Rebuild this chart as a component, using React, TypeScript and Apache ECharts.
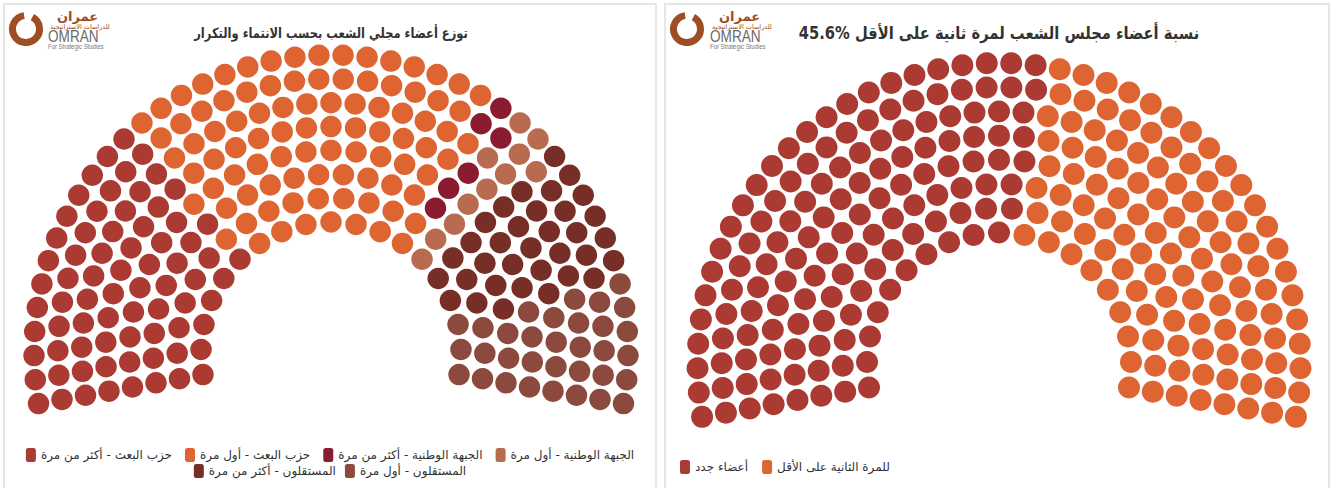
import React, { useEffect, useRef } from 'react';
import * as echarts from 'echarts';

// ---------- DATA ----------
const leftTitle = 'توزع أعضاء مجلي الشعب بحسب الانتماء والتكرار';
const leftCategories = [
  'حزب البعث - أكثر من مرة',
  'حزب البعث - أول مرة',
  'الجبهة الوطنية - أكثر من مرة',
  'الجبهة الوطنية - أول مرة',
  'المستقلون - أكثر من مرة',
  'المستقلون - أول مرة',
];
const leftSeats = [74, 92, 6, 11, 34, 33];

const rightTitle = '45.6% نسبة أعضاء مجلس الشعب لمرة ثانية على الأقل';
const rightCategories = ['أعضاء جدد', 'للمرة الثانية على الأقل'];
const rightSeats = [136, 114];

// ---------- STYLE / LAYOUT ----------
const leftColors = ['#ab3a33', '#de6431', '#8b1c30', '#b86b4f', '#772e26', '#8b4a3d'];
const rightColors = ['#ab3a33', '#de6431'];
const ROW_SEATS = [19, 22, 26, 29, 33, 37, 40, 44]; // parliament rows, inner -> outer
const START_DEG = -190;
const END_DEG = 10;
const FONT = '"DejaVu Sans", "Noto Sans", sans-serif';

function norm(deg: number) {
  return ((deg % 360) + 360) % 360;
}

// Parliament slot layout: seats on concentric arcs, ordered by angle
function buildSlots(innerR: number, outerR: number) {
  const n = ROW_SEATS.length;
  const slots: { r: number; key: number; row: number }[] = [];
  ROW_SEATS.forEach((count, k) => {
    const r = innerR + ((outerR - innerR) * k) / (n - 1);
    const cols = count - 1;
    for (let c = 0; c <= cols; c++) slots.push({ r, key: c / cols, row: k });
  });
  slots.sort((a, b) => a.key - b.key || a.row - b.row);
  return slots.map((s) => [s.r, norm(START_DEG + s.key * (END_DEG - START_DEG))]);
}

function assign(counts: number[], innerR: number, outerR: number) {
  const slots = buildSlots(innerR, outerR);
  const out: number[][][] = [];
  let idx = 0;
  counts.forEach((c) => {
    out.push(slots.slice(idx, idx + c));
    idx += c;
  });
  return out;
}

function logo(cx: number, cy: number, ringR: number, ringW: number, tx: number) {
  const brown = '#9e4d24';
  return [
    {
      type: 'arc',
      silent: true,
      shape: {
        cx,
        cy,
        r: ringR,
        startAngle: (-62 * Math.PI) / 180,
        endAngle: (262 * Math.PI) / 180,
        clockwise: true,
      },
      style: { stroke: brown, lineWidth: ringW, fill: null },
    },
    {
      type: 'text',
      x: tx + 9,
      y: 11.5,
      silent: true,
      style: { text: 'عمران', fontSize: 13, fontWeight: 'bold', fontFamily: FONT, fill: brown, align: 'left', verticalAlign: 'middle' },
    },
    {
      type: 'text',
      x: tx + 2,
      y: 21.5,
      silent: true,
      style: { text: 'للدراسات الاستراتيجية', fontSize: 6.5, fontFamily: FONT, fill: brown, align: 'left', verticalAlign: 'middle' },
    },
    {
      type: 'text',
      x: tx,
      y: 32,
      scaleX: 0.85,
      silent: true,
      style: { text: 'OMRAN', fontSize: 16, fontFamily: '"Liberation Sans", sans-serif', fill: '#6b6b6b', align: 'left', verticalAlign: 'middle' },
    },
    {
      type: 'text',
      x: tx,
      y: 41.5,
      scaleX: 0.85,
      silent: true,
      style: { text: 'For Strategic Studies', fontSize: 7, fontFamily: '"Liberation Sans", sans-serif', fill: '#777', align: 'left', verticalAlign: 'middle' },
    },
  ];
}

function titleText(text: string, x: number, size: number, scaleX: number) {
  return {
    type: 'text',
    x,
    y: 28,
    scaleX,
    silent: true,
    style: { text, fontSize: size, fontWeight: 'bold', fontFamily: FONT, fill: '#333', align: 'center', verticalAlign: 'middle' },
  };
}

function polarBase(cx: number, cy: number, outerR: number) {
  return {
    polar: { center: [cx, cy], radius: outerR },
    angleAxis: { type: 'value', min: 0, max: 360, startAngle: 0, clockwise: true, show: false },
    radiusAxis: { type: 'value', min: 0, max: outerR, show: false },
  };
}

function seriesFor(names: string[], colors: string[], data: number[][][], size: number) {
  return names.map((name, i) => ({
    name,
    type: 'scatter',
    coordinateSystem: 'polar',
    symbol: 'circle',
    symbolSize: size,
    data: data[i],
    itemStyle: { color: colors[i], opacity: 1 },
    silent: true,
    emphasis: { disabled: true },
  }));
}

const legendCommon = {
  icon: 'roundRect',
  itemWidth: 10,
  itemHeight: 14,
  itemGap: 9,
  padding: 0,
  selectedMode: false,
  textStyle: { fontSize: 12, color: '#333', fontFamily: FONT },
};

function leftOption() {
  const innerR = 130;
  const outerR = 297;
  const data = assign(leftSeats, innerR, outerR);
  return {
    animation: false,
    legend: [
      { ...legendCommon, data: leftCategories.slice(0, 4), left: 'center', top: 443, itemGap: 13 },
      { ...legendCommon, data: leftCategories.slice(4), left: 'center', top: 459 },
    ],
    ...polarBase(326, 347, outerR),
    graphic: { elements: [...logo(21, 24, 13.5, 7, 43), titleText(leftTitle, 326, 14, 0.82)] },
    series: seriesFor(leftCategories, leftColors, data, 21.5),
  };
}

function rightOption() {
  const innerR = 132;
  const outerR = 301.5;
  const data = assign(rightSeats, innerR, outerR);
  return {
    animation: false,
    legend: [{ ...legendCommon, data: rightCategories, left: 14, top: 455, itemGap: 14 }],
    ...polarBase(333, 359.5, outerR),
    graphic: { elements: [...logo(21, 24, 13.5, 7, 44), titleText(rightTitle, 333, 17, 0.866)] },
    series: seriesFor(rightCategories, rightColors, data, 22),
  };
}

function Chart({ option, width, height }: { option: () => any; width: number; height: number }) {
  const ref = useRef<HTMLDivElement>(null);
  useEffect(() => {
    if (!ref.current) return;
    const chart = echarts.init(ref.current, null, { renderer: 'svg' });
    chart.setOption(option());
    return () => chart.dispose();
  }, []);
  return <div ref={ref} style={{ width, height }} />;
}

export default function App() {
  const panel = (left: number, width: number): React.CSSProperties => ({
    position: 'absolute',
    left,
    top: 3,
    width,
    height: 500,
    border: '2px solid #e6e6e6',
    boxSizing: 'border-box',
    background: '#fff',
  });
  return (
    <div style={{ position: 'absolute', left: 0, top: 0, width: 1339, height: 488, overflow: 'hidden', background: '#fff' }}>
      <div style={panel(3, 654)}>
        <Chart option={leftOption} width={650} height={496} />
      </div>
      <div style={panel(664, 666)}>
        <Chart option={rightOption} width={662} height={496} />
      </div>
    </div>
  );
}
